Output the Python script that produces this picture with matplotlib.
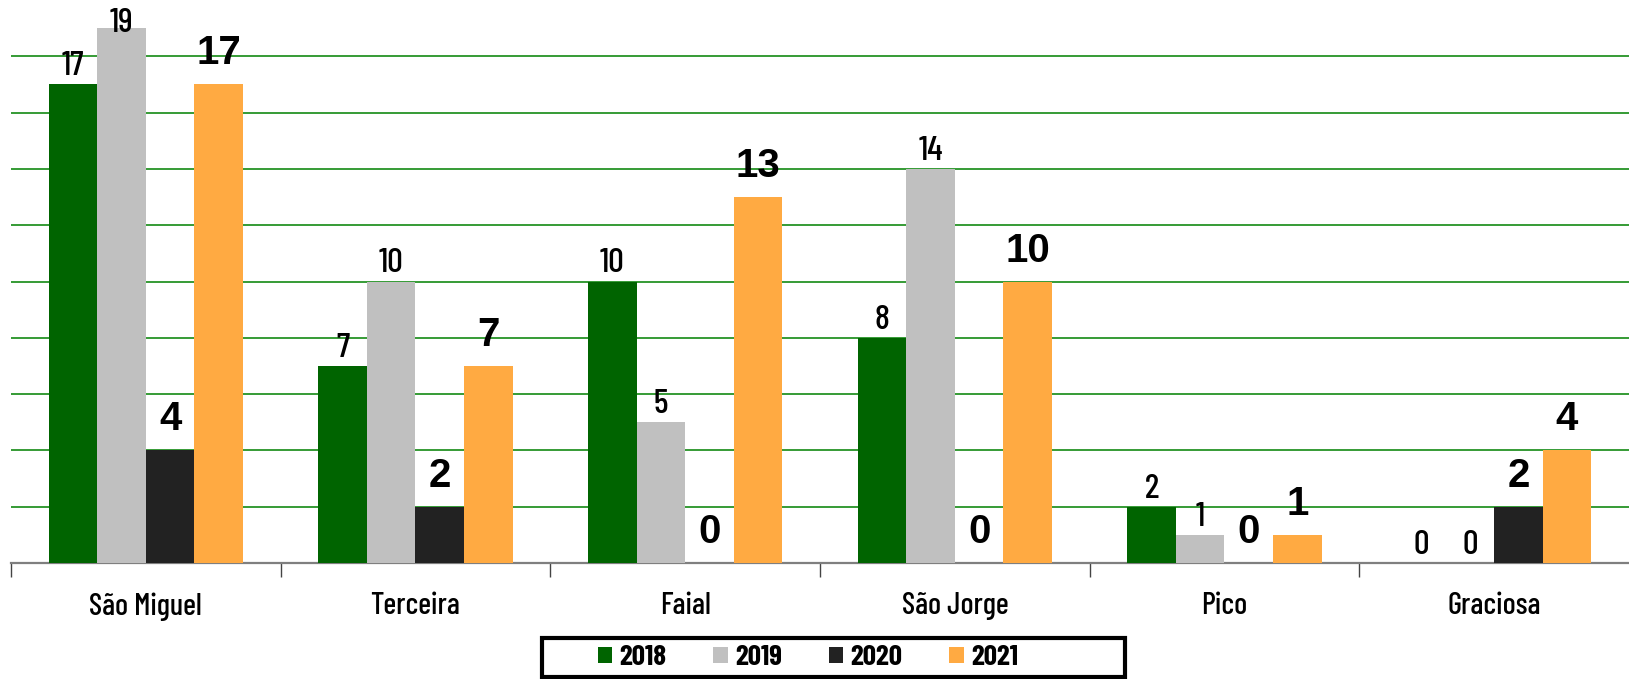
import matplotlib
matplotlib.use('Agg')
import matplotlib.pyplot as plt
from matplotlib.patches import Rectangle
import numpy as np

ilhas = ['São Miguel', 'Terceira', 'Faial', 'São Jorge', 'Pico', 'Graciosa']
anos = ['2018', '2019', '2020', '2021']
v2018 = [17, 7, 10, 8, 2, 0]
v2019 = [19, 10, 5, 14, 1, 0]
v2020 = [4, 2, 0, 0, 0, 2]
v2021 = [17, 7, 13, 10, 1, 4]
series = [v2018, v2019, v2020, v2021]
cores = ['#006400', '#c0c0c0', '#222222', '#ffaa42']

NARROW = ['Barlow Condensed', 'DejaVu Sans']
BOLD = ['Liberation Sans', 'DejaVu Sans']

W, H, DPI = 1629, 679, 100
fig = plt.figure(figsize=(W / DPI, H / DPI), dpi=DPI)
# axes em pixels: esquerda 11, direita 1629, baixo 563, topo 0
ax = fig.add_axes([11 / W, (H - 563) / H, (W - 11) / W, 563 / H])

YMAX = 20
x = np.arange(len(ilhas))
bw = 0.18
desloc = (np.arange(4) - 1.5) * bw

for i, (vals, cor, ano) in enumerate(zip(series, cores, anos)):
    ax.bar(x + desloc[i], vals, bw, color=cor, label=ano, zorder=3)

ax.set_xlim(-0.5, len(ilhas) - 0.5)
ax.set_ylim(0, YMAX)

# grade verde a cada 2
for g in range(2, 19, 2):
    ax.axhline(g, color='#138a13', lw=1.2, zorder=1)

px_por_unidade = 563 / YMAX

def rotulo(xp, v, negrito):
    if negrito:
        off, fs, fam, fw = 20, 29, BOLD, 'bold'
    else:
        off, fs, fam, fw = 9, 25, NARROW, 500
    base = v + off / px_por_unidade
    alt = fs * 1.389 * 0.72 / px_por_unidade
    if base + alt > YMAX - 0.25:
        base = YMAX - 0.25 - alt
    ax.text(xp, base, str(v), ha='center', va='baseline', fontsize=fs,
            family=fam, fontweight=fw, color='black', zorder=4)

for i, vals in enumerate(series):
    for j, v in enumerate(vals):
        rotulo(x[j] + desloc[i], v, negrito=(i >= 2))

for s in ['top', 'right', 'left']:
    ax.spines[s].set_visible(False)
ax.spines['bottom'].set_color('#7f7f7f')
ax.spines['bottom'].set_linewidth(1.6)
ax.set_yticks([])

ax.set_xticks(x)
ax.set_xticklabels(ilhas, family=NARROW, fontsize=22, fontweight=500)
ax.tick_params(axis='x', which='major', length=0, pad=21)
ax.set_xticks(np.arange(len(ilhas)) - 0.5, minor=True)
ax.tick_params(axis='x', which='minor', length=10, width=1, color='#444444')

leg = fig.legend(loc='center', bbox_to_anchor=(0.496, 0.031), ncol=4, frameon=False,
                 prop={'family': NARROW, 'weight': 'bold', 'size': 21},
                 handlelength=0.5, handleheight=0.5, handletextpad=0.25,
                 columnspacing=1.6)

fig.patches.append(Rectangle((542 / W, 2 / H), (1125 - 542) / W, 39 / H,
                             transform=fig.transFigure, fill=False,
                             edgecolor='black', lw=3))

plt.savefig('out.png', dpi=DPI)
